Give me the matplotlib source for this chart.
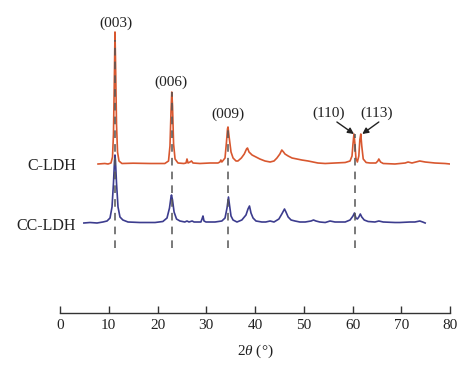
import numpy as np
import matplotlib
matplotlib.use("Agg")
import matplotlib.pyplot as plt

# XRD patterns: 2theta (deg) and relative intensity (a.u.)
c_ldh_x = [7.8, 9.2, 9.85, 10.46, 10.77, 10.97, 11.18, 11.28, 11.38, 11.59, 11.8, 12.1, 12.7,
           15.0, 18.5, 21.5, 22.26, 22.56, 22.77, 22.93, 23.08, 23.3, 23.6, 24.2, 25.4, 25.85,
           26.05, 26.26, 26.67, 26.97, 27.28, 28.7, 30.77, 32.4, 32.8, 33.0, 33.2, 33.85, 34.15,
           34.36, 34.46, 34.62, 34.77, 35.08, 35.5, 36.1, 36.5, 37.2, 37.8, 38.26, 38.46, 38.77,
           39.4, 40.2, 41.0, 42.05, 43.1, 43.9, 44.5, 45.1, 45.5, 45.85, 46.15, 46.8, 47.6, 48.6,
           49.6, 50.9, 51.9, 52.9, 54.4, 56.4, 58.5, 59.5, 59.9, 60.1, 60.3, 60.5, 60.7, 61.0,
           61.3, 61.5, 61.7, 61.9, 62.2, 62.8, 63.6, 64.8, 65.2, 65.4, 65.75, 66.3, 68.7, 70.8,
           71.4, 72.2, 73.8, 74.9, 76.9, 79.0, 80.0]
c_ldh_y = [0, 0.5, 0, 1, 7, 30, 95, 132, 105, 40, 12, 3, 0.5,
           0.8, 0.5, 0.5, 3, 18, 52, 72, 58, 20, 5, 1, 0.5, 1,
           5, 1, 2, 3, 1, 0.5, 1, 1, 2, 4, 2, 6, 22,
           35, 37, 30, 24, 12, 6, 3, 3, 6, 10, 15, 16, 12,
           9, 7, 5, 3, 2, 3, 6, 10, 14, 12, 10, 8, 6, 5,
           4, 3, 2, 1, 0.5, 1, 1.5, 3, 8, 20, 30, 20, 6, 2,
           8, 24, 30, 18, 5, 1.5, 1, 1, 3, 5, 2, 0.5, 0, 1,
           2, 1, 3, 2, 1, 0.5, 0]

cc_ldh_x = [4.9, 6.15, 7.6, 8.8, 9.65, 10.26, 10.67, 10.97, 11.18, 11.28, 11.38, 11.59, 11.9,
            12.3, 12.9, 13.95, 16.4, 19.5, 21.1, 21.95, 22.46, 22.77, 22.87, 23.08, 23.4, 23.9,
            24.6, 25.6, 26.05, 26.46, 27.1, 27.5, 28.9, 29.13, 29.33, 29.54, 29.95, 31.8, 33.2,
            33.85, 34.26, 34.56, 34.77, 35.08, 35.5, 36.3, 37.3, 38.15, 38.56, 38.87, 39.18, 39.6,
            40.2, 41.4, 42.2, 43.1, 43.9, 44.9, 45.5, 46.05, 46.35, 46.8, 47.4, 48.2, 49.2, 50.3,
            51.5, 52.0, 52.5, 53.3, 54.4, 55.4, 56.4, 58.5, 59.5, 60.1, 60.4, 60.7, 61.0, 61.3,
            61.6, 61.9, 62.4, 63.2, 64.6, 65.4, 66.3, 68.7, 69.7, 71.8, 72.8, 73.8, 74.4, 74.9]
cc_ldh_y = [0, 0.5, 0, 1, 2, 5, 16, 40, 62, 68, 62, 40, 16,
            6, 3, 1, 0.5, 0.5, 1.5, 5, 15, 26, 28, 23, 11, 4,
            2, 1, 2, 1, 2, 1, 1, 4, 7, 2, 1, 1, 2,
            5, 15, 26, 18, 7, 3, 1, 3, 8, 14, 17, 10, 5,
            2, 1, 1, 2, 1, 4, 9, 14, 11, 6, 3, 2, 1, 1,
            2, 3, 2, 1, 0.5, 2, 1, 1, 3, 7, 10, 5, 4, 6,
            9, 6, 3, 1.5, 1, 2, 1, 0.5, 0.5, 1, 1, 2, 1, 0]

peak_pos = [11.3, 23.0, 34.5, 60.5]
peak_labels = ["(003)", "(006)", "(009)", "(110)", "(113)"]
label_x = [11.4, 22.7, 34.5, 55.0, 65.0]
label_y = [290, 231, 199, 200, 200]

plt.rcParams['font.family'] = ['Liberation Serif', 'DejaVu Serif']
plt.rcParams['mathtext.fontset'] = 'custom'
plt.rcParams['mathtext.rm'] = 'Liberation Serif'
plt.rcParams['mathtext.it'] = 'Liberation Serif:italic'

fig = plt.figure(figsize=(4.74, 3.75), dpi=100)
ax = fig.add_axes([60 / 474, 62 / 375, 390 / 474, 313 / 375])
ax.set_xlim(0, 80)
ax.set_ylim(0, 313)

off_c = 149
off_cc = 90
orange = '#d8572f'
navy = '#3c3c8e'
ax.plot(cc_ldh_x, np.array(cc_ldh_y) + off_cc, color=navy, lw=1.2, zorder=2)
ax.plot(c_ldh_x, np.array(c_ldh_y) + off_c, color=orange, lw=1.2, zorder=3)

# dashed guides
tops = [273, 221, 186, 179]
for xp, tp in zip(peak_pos, tops):
    ax.plot([xp, xp], [65, tp], color='#555555', lw=1.1, ls=(0, (5, 4)), zorder=4)

for lab, lx, ly in zip(peak_labels, label_x, label_y):
    ax.text(lx, ly, lab, ha='center', va='center', fontsize=11, color='#222222')

# arrows to the (110) and (113) peaks
arrow_kw = dict(arrowstyle='-|>', color='#222222', lw=1.0, mutation_scale=9,
                shrinkA=0, shrinkB=0)
ax.annotate("", xy=(60.3, 179), xytext=(56.8, 191), arrowprops=arrow_kw)
ax.annotate("", xy=(62.0, 179), xytext=(65.4, 191), arrowprops=arrow_kw)

ax.text(3.3, off_c - 2, "C-LDH", ha='right', va='center', fontsize=11.5, color='#222222')
ax.text(3.3, off_cc - 3, "CC-LDH", ha='right', va='center', fontsize=11.5, color='#222222')

for s in ['left', 'right', 'top']:
    ax.spines[s].set_visible(False)
ax.spines['bottom'].set_color('#333333')
ax.spines['bottom'].set_linewidth(1.0)
ax.set_yticks([])
ax.set_xticks(np.arange(0, 81, 10))
# ticks point upward from the axis line
ax.tick_params(axis='x', direction='in', length=5, width=1.0, color='#333333',
               labelsize=11, labelcolor='#222222', pad=4)
ax.set_xlabel(r"$2\theta$ (°)", fontsize=11, color='#222222', labelpad=8)
ax.patch.set_visible(False)

fig.savefig("out.png", dpi=100)
